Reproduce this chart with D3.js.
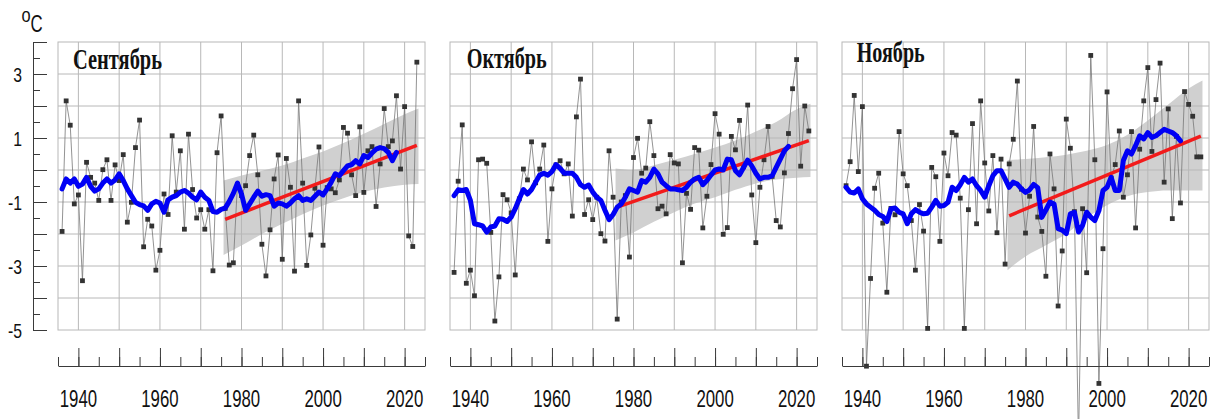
<!DOCTYPE html>
<html>
<head>
<meta charset="utf-8">
<script src="https://cdn.jsdelivr.net/npm/d3@7"></script>
<style>
body { margin: 0; background: #fff; }
svg { display: block; }
.grid line, .frame { stroke: #b8b8b8; stroke-width: 1; fill: none; }
.axis path, .axis line { stroke: #3a3a3a; stroke-width: 1; }
.lbl { font-family: "Liberation Sans", Arial, sans-serif; fill: #111; }
.title { font-family: "Liberation Serif", "Times New Roman", serif; font-weight: bold; fill: #111; }
</style>
</head>
<body>
<div id="chart"></div>
<script>
// first year of every series
const startYear = 1936;
const smoothStart = 1936;

const sepValues = [-1.92, 2.16, 1.40, -1.06, -0.78, -3.46, 0.24, -0.23, -0.41, -0.95,
  0.01, 0.32, -0.95, 0.16, -0.33, 0.48, -1.63, -1.01, 0.70, 1.56,
  -2.40, -1.54, -1.75, -3.13, -2.51, -0.75, -1.39, 1.07, -0.69, 0.60,
  -1.85, 1.12, -0.61, -1.50, -1.24, -1.85, -1.24, -3.15, 0.54, 1.69,
  -1.20, -2.97, -2.90, -0.45, -0.80, -0.49, 0.45, 1.09, -0.15, -2.32,
  -3.31, -1.87, -0.28, 0.47, -2.79, 0.36, -0.54, -3.16, 2.16, -0.41,
  -2.98, -2.03, -0.57, 0.72, -2.35, -0.55, -0.59, -0.71, -0.31, 1.33,
  1.15, -0.15, -0.80, 1.35, -0.70, 0.60, 0.73, -1.14, 0.19, 1.92,
  0.73, 0.91, 2.32, 0.03, 1.98, -2.06, -2.39, 3.37];

const sepSmooth = [-0.59, -0.28, -0.41, -0.28, -0.51, -0.44, -0.23, -0.51, -0.66, -0.59,
  -0.41, -0.28, -0.41, -0.31, -0.12, -0.33, -0.59, -0.80, -1.01, -1.08,
  -1.12, -1.26, -1.06, -0.98, -1.03, -1.32, -0.93, -0.85, -0.80, -0.69,
  -0.64, -0.72, -0.85, -0.93, -0.69, -0.85, -0.95, -1.30, -1.32, -1.23,
  -1.19, -0.98, -0.73, -0.41, -0.75, -1.26, -1.06, -0.85, -0.66, -0.82,
  -0.77, -0.80, -1.13, -1.03, -1.06, -1.13, -1.03, -0.90, -0.80, -0.95,
  -0.90, -0.95, -0.82, -0.69, -0.78, -0.59, -0.38, -0.12, -0.18, -0.02,
  0.13, 0.17, 0.29, 0.19, 0.45, 0.39, 0.53, 0.65, 0.70, 0.67,
  0.55, 0.29, 0.55];

const octValues = [-3.20, -0.35, 1.41, -3.54, -3.13, -3.93, 0.32, 0.34, 0.21, -1.95,
  -4.72, -3.34, -0.77, -0.93, -1.34, -3.28, -0.90, 0.03, -0.31, 0.88,
  -0.40, 0.03, 0.78, -2.23, -0.59, 0.16, 0.29, -0.12, 0.19, -1.44,
  1.66, 2.84, -1.39, -0.93, -1.55, -0.85, -1.99, -2.22, 0.60, -0.85,
  -4.66, -1.00, -0.80, -2.72, 0.39, 0.99, -0.10, 0.06, 1.51, 0.45,
  -1.21, -1.13, -1.37, 0.48, 0.22, 0.19, -2.90, -0.73, -1.23, 0.70,
  0.62, -1.81, -0.82, 0.17, 1.76, 1.12, -2.01, -1.80, 1.05, 0.63,
  1.55, 0.10, 2.03, -0.78, -2.27, -0.54, 0.32, 1.36, -0.20, -1.58,
  -1.78, -0.09, 1.14, 2.54, 3.45, 0.12, 2.00, 1.22];

const octSmooth = [-0.80, -0.62, -0.64, -0.61, -0.95, -1.68, -1.71, -1.75, -1.94, -1.78,
  -1.75, -1.52, -1.54, -1.61, -1.47, -1.21, -0.90, -0.61, -0.75, -0.61,
  -0.38, -0.16, -0.10, -0.16, -0.05, 0.17, 0.05, -0.10, -0.10, -0.10,
  -0.23, -0.46, -0.54, -0.47, -0.69, -0.85, -0.95, -1.26, -1.55, -1.39,
  -1.16, -1.06, -0.85, -0.59, -0.64, -0.69, -0.33, -0.38, -0.23, 0.03,
  -0.12, -0.38, -0.49, -0.59, -0.59, -0.62, -0.64, -0.54, -0.38, -0.28,
  -0.23, -0.46, -0.33, -0.16, 0.00, 0.03, 0.00, 0.34, 0.32, -0.02,
  -0.15, 0.08, 0.31, 0.13, -0.10, -0.28, -0.23, -0.23, -0.18, 0.08,
  0.34, 0.60, 0.74];

const novValues = [-0.49, 0.26, 2.33, -0.05, 1.98, -6.13, -3.39, -0.57, -0.10, -1.66,
  -3.82, -1.20, -1.40, 1.20, -0.12, -0.49, -1.58, -3.13, -1.08, -1.91,
  -4.95, 0.08, -0.21, -2.23, 0.53, -0.18, 1.17, 1.09, -0.88, -4.95,
  -1.24, 1.45, -1.68, 2.16, 0.22, -1.28, 0.45, -1.96, 0.34, -2.94,
  0.19, 0.96, 2.78, -0.60, -1.97, -0.82, 1.36, -1.47, -1.92, -3.32,
  0.50, -0.59, -4.25, -2.53, 1.59, 0.68, -1.30, -8.50, -1.21, -3.21,
  3.58, 0.32, -6.67, -2.46, 2.44, -0.25, 0.17, 1.22, -0.85, -0.15,
  1.20, -1.81, 0.65, 2.16, 3.20, 0.58, 2.20, 3.34, -0.38, 1.91,
  -1.52, 1.05, -1.03, 2.45, 2.05, 1.68, 0.41, 0.41];

const novSmooth = [-0.54, -0.69, -0.72, -0.59, -0.90, -1.06, -1.16, -1.26, -1.39, -1.45,
  -1.61, -1.21, -1.19, -1.32, -1.37, -1.68, -1.37, -1.24, -1.32, -1.37,
  -1.35, -1.16, -0.95, -1.13, -1.11, -1.01, -0.54, -0.64, -0.46, -0.23,
  -0.38, -0.28, -0.49, -0.64, -0.85, -0.49, -0.18, -0.02, -0.02, -0.28,
  -0.54, -0.38, -0.44, -0.59, -0.70, -0.62, -0.45, -0.55, -1.48, -1.25,
  -1.00, -1.06, -1.83, -1.88, -1.99, -1.37, -1.32, -1.94, -1.73, -1.32,
  -1.47, -1.58, -1.27, -0.64, -0.54, -0.23, -0.64, -0.64, 0.30, 0.60,
  0.50, 0.76, 1.07, 0.97, 1.17, 1.02, 1.07, 1.17, 1.27, 1.22,
  1.17, 1.07, 0.91];

// linear trend 1976-2023 (ends)
const trendYears = [1976, 2023];
const sepTrend = [-1.54, 0.77];
const octTrend = [-1.16, 0.92];
const novTrend = [-1.43, 1.06];

// confidence band edges
const bandYears = [1975.6, 1980, 1985, 1990, 1995, 2000, 2005, 2010, 2015, 2020, 2023.4];
const sepUpper = [-0.33, -0.17, -0.02, 0.14, 0.36, 0.58, 0.84, 1.13, 1.44, 1.74, 1.92];
const sepLower = [-2.66, -2.36, -2.00, -1.68, -1.38, -1.11, -0.88, -0.69, -0.55, -0.46, -0.44];
const octUpper = [0.05, 0.00, 0.15, 0.32, 0.50, 0.70, 0.92, 1.20, 1.50, 1.90, 2.07];
const octLower = [-2.20, -1.95, -1.62, -1.32, -1.05, -0.85, -0.62, -0.42, -0.30, -0.24, -0.22];
const novUpper = [0.31, 0.34, 0.40, 0.48, 0.60, 0.78, 1.10, 1.55, 2.05, 2.55, 2.80];
const novLower = [-3.13, -2.70, -2.35, -1.99, -1.50, -1.10, -0.82, -0.69, -0.64, -0.64, -0.64];

const xDomain = [1935, 2025];
const yDomain = [-5, 4];
const yLabels = [3, 1, -1, -3, -5];
const xLabels = [1940, 1960, 1980, 2000, 2020];

const svg = d3.select("#chart").append("svg")
    .attr("width", 1219)
    .attr("height", 419);

class monthPanel {
    constructor(left, title, titleBox, values, smooth, trend, upper, lower, showY) {
        this.left = left;
        this.title = title;
        this.titleBox = titleBox;
        this.values = values;
        this.smooth = smooth;
        this.trend = trend;
        this.upper = upper;
        this.lower = lower;
        this.showY = showY;
        this.initVis();
    }

    initVis() {
        let vis = this;
        vis.width = 367;
        vis.height = 288;
        vis.g = svg.append("g")
            .attr("transform", "translate(" + vis.left + ",42)");

        vis.x = d3.scaleLinear().domain(xDomain).range([0, vis.width]);
        vis.y = d3.scaleLinear().domain(yDomain).range([vis.height, 0]);

        vis.points = vis.values.map((v, i) => [startYear + i, v]);
        vis.smoothPts = vis.smooth.map((v, i) => [smoothStart + i, v]);
        vis.bandPts = bandYears.map((yr, i) => ({year: yr, hi: vis.upper[i], lo: vis.lower[i]}));

        vis.updateVis();
    }

    updateVis() {
        let vis = this;

        // band under the grid
        let area = d3.area()
            .x(d => vis.x(d.year))
            .y0(d => vis.y(d.lo))
            .y1(d => vis.y(d.hi))
            .curve(d3.curveMonotoneX);
        vis.g.append("path")
            .datum(vis.bandPts)
            .attr("d", area)
            .attr("fill", "#d0d0d0");

        let grid = vis.g.append("g").attr("class", "grid");
        grid.selectAll(".h")
            .data(d3.range(-4, 4))
            .enter().append("line")
            .attr("x1", 0).attr("x2", vis.width)
            .attr("y1", d => vis.y(d)).attr("y2", d => vis.y(d));
        grid.selectAll(".v")
            .data(d3.range(1940, 2021, 10))
            .enter().append("line")
            .attr("y1", 0).attr("y2", vis.height)
            .attr("x1", d => vis.x(d)).attr("x2", d => vis.x(d));
        vis.g.append("rect")
            .attr("class", "frame")
            .attr("width", vis.width)
            .attr("height", vis.height);

        let line = d3.line()
            .x(d => vis.x(d[0]))
            .y(d => vis.y(d[1]));

        vis.g.append("path")
            .datum(vis.points)
            .attr("d", line)
            .attr("fill", "none")
            .attr("stroke", "#777")
            .attr("stroke-width", 0.8);

        vis.g.selectAll(".pt")
            .data(vis.points)
            .enter().append("rect")
            .attr("class", "pt")
            .attr("x", d => vis.x(d[0]) - 2.4)
            .attr("y", d => vis.y(d[1]) - 2.4)
            .attr("width", 4.8)
            .attr("height", 4.8)
            .attr("fill", "#333");

        vis.g.append("path")
            .datum(trendYears.map((yr, i) => [yr, vis.trend[i]]))
            .attr("d", line)
            .attr("stroke", "#f21b1b")
            .attr("stroke-width", 3.5)
            .attr("fill", "none");

        vis.g.append("path")
            .datum(vis.smoothPts)
            .attr("d", line)
            .attr("fill", "none")
            .attr("stroke", "#0000f5")
            .attr("stroke-width", 5)
            .attr("stroke-linejoin", "round")
            .attr("stroke-linecap", "round");

        vis.g.append("text")
            .attr("class", "title")
            .attr("x", vis.titleBox[0])
            .attr("y", vis.titleBox[1])
            .attr("font-size", 30)
            .attr("textLength", vis.titleBox[2])
            .attr("lengthAdjust", "spacingAndGlyphs")
            .text(vis.title);

        // year axis below the plot
        let axisY = 324;
        vis.g.append("g")
            .attr("class", "axis")
            .attr("transform", "translate(0," + axisY + ")")
            .call(d3.axisTop(vis.x).tickValues(d3.range(1935, 2026, 5)).tickSize(9).tickSizeOuter(0).tickFormat(""));
        vis.g.append("g")
            .attr("class", "axis")
            .attr("transform", "translate(0," + axisY + ")")
            .call(d3.axisTop(vis.x).tickValues(d3.range(1940, 2021, 10)).tickSize(18).tickSizeOuter(0).tickFormat(""))
            .select(".domain").remove();

        vis.g.selectAll(".xl")
            .data(xLabels)
            .enter().append("text")
            .attr("class", "lbl")
            .attr("text-anchor", "middle")
            .attr("font-size", 23)
            .attr("transform", d => "translate(" + vis.x(d) + "," + (axisY + 40.5) + ") scale(0.73,1)")
            .text(d => d);

        if (vis.showY) {
            let ax = -25;
            vis.g.append("g")
                .attr("class", "axis")
                .attr("transform", "translate(" + ax + ",0)")
                .call(d3.axisRight(vis.y).tickValues(d3.range(-4.5, 4, 1)).tickSize(7).tickSizeOuter(0).tickFormat(""));
            vis.g.append("g")
                .attr("class", "axis")
                .attr("transform", "translate(" + ax + ",0)")
                .call(d3.axisRight(vis.y).tickValues(d3.range(-5, 4.5, 1)).tickSize(14).tickSizeOuter(0).tickFormat(""))
                .select(".domain").remove();

            vis.g.selectAll(".yl")
                .data(yLabels)
                .enter().append("text")
                .attr("class", "lbl")
                .attr("text-anchor", "end")
                .attr("font-size", 21)
                .attr("transform", d => "translate(" + (ax - 11) + "," + (vis.y(d) + 7.5) + ") scale(0.75,1)")
                .text(d => d);

            vis.g.append("text")
                .attr("class", "lbl")
                .attr("font-size", 21)
                .attr("transform", "translate(-36.5,-20) scale(0.78,1)")
                .text("o");
            vis.g.append("text")
                .attr("class", "lbl")
                .attr("font-size", 23)
                .attr("transform", "translate(-27.5,-10) scale(0.73,1)")
                .text("C");
        }
    }
}

new monthPanel(58, "Сентябрь", [15, 27, 89], sepValues, sepSmooth, sepTrend, sepUpper, sepLower, true);
new monthPanel(450, "Октябрь", [16.7, 26, 80], octValues, octSmooth, octTrend, octUpper, octLower, false);
new monthPanel(842, "Ноябрь", [14.7, 20, 68], novValues, novSmooth, novTrend, novUpper, novLower, false);
</script>
</body>
</html>
